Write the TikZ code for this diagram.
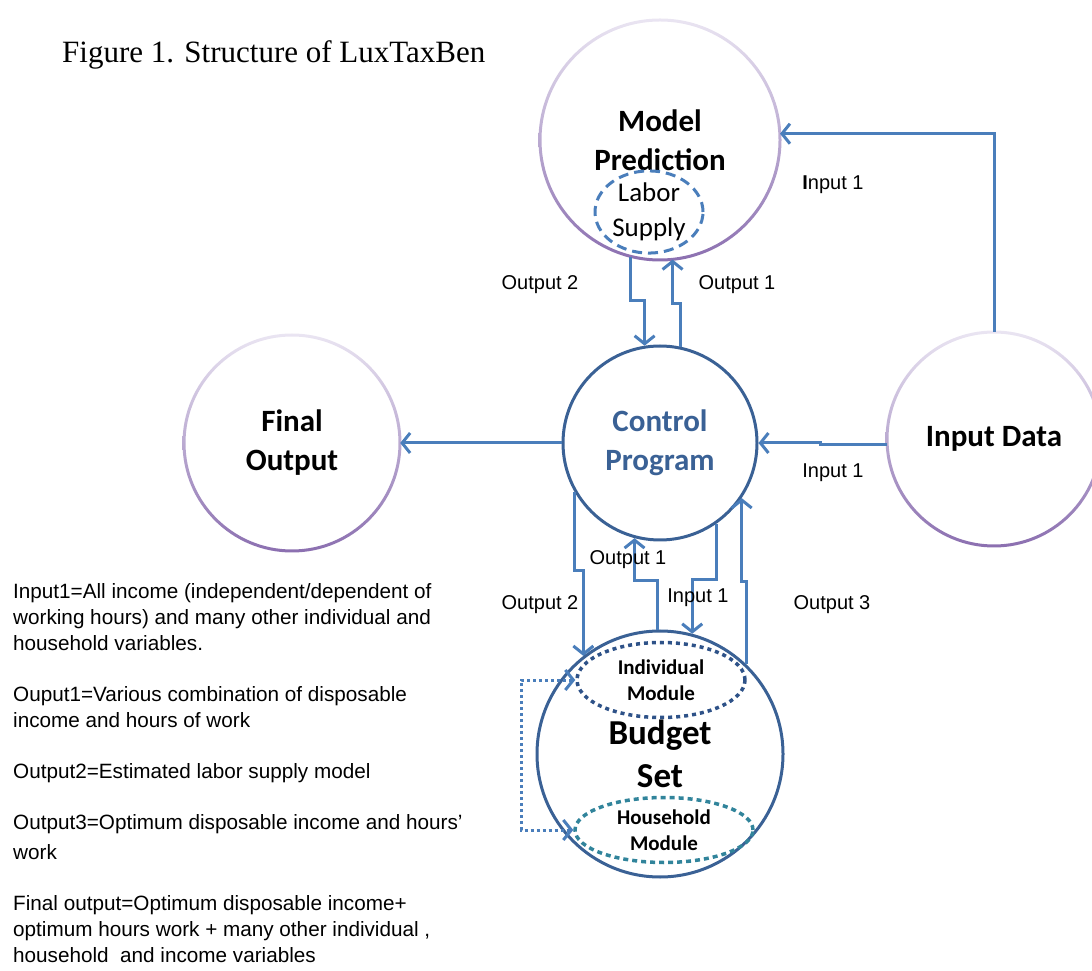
\documentclass[tikz,border=0pt]{standalone}
\usepackage{fontspec}
\setmainfont{Liberation Serif}
\newfontfamily\calibri{Carlito}
\newfontfamily\arial{Liberation Sans}
\usetikzlibrary{shapes.geometric,arrows.meta}
\definecolor{linkblue}{HTML}{4A7EBB}
\definecolor{hubblue}{HTML}{3A6195}
\definecolor{lavtop}{HTML}{EAE5F2}
\definecolor{lavbot}{HTML}{8B6FB0}
\definecolor{dotblue}{HTML}{2E5288}
\definecolor{dotteal}{HTML}{31849B}
\begin{document}
\begin{tikzpicture}[x=1pt,y=1pt]
\tikzstyle{ring} = [circle, inner sep=0pt, align=center, font=\calibri\bfseries\fontsize{31}{39}\selectfont]
\tikzstyle{hub} = [ring, draw=hubblue, line width=3pt]
\tikzstyle{module} = [ellipse, inner sep=0pt, align=center, line width=3.5pt, font=\calibri\bfseries\fontsize{21}{26}\selectfont]
\tikzstyle{arrow} = [line width=3pt, linkblue, -{Straight Barb[length=8pt,width=20pt]}]
\tikzstyle{tag} = [font=\arial\fontsize{20}{24}\selectfont]

\useasboundingbox (0,0) rectangle (1092,970);

\node (title) [anchor=base west, inner sep=0pt, font=\fontsize{31}{36}\selectfont] at (62,907) {Figure 1. Structure of LuxTaxBen};

% circles
\node (mp) [ring, minimum size=240pt] at (660,830) {Model\\Prediction};
\node (cp) [hub, minimum size=194pt, text=hubblue] at (660,527) {Control\\Program};
\node (fo) [ring, minimum size=216pt] at (292,527) {Final\\Output};
\node (id) [ring, minimum size=214pt] at (994,531) {Input Data};
\node (bs) [hub, minimum size=246pt, font=\calibri\bfseries\fontsize{35}{43}\selectfont] at (660,216) {Budget\\Set};

\shade[top color=lavtop, bottom color=lavbot, even odd rule] (mp) circle (121.5pt) circle (118.5pt);
\shade[top color=lavtop, bottom color=lavbot, even odd rule] (fo) circle (109.5pt) circle (106.5pt);
\shade[top color=lavtop, bottom color=lavbot, even odd rule] (id) circle (108.5pt) circle (105.5pt);

% inner modules
\node (ls) [ellipse, draw=linkblue, line width=3pt, dash pattern=on 10pt off 6pt, minimum width=108pt, minimum height=80pt, inner sep=0pt, align=center, font=\calibri\fontsize{27}{35}\selectfont] at (649,758) {Labor\\Supply};
\node (im) [module, draw=dotblue, dash pattern=on 4pt off 4pt, minimum width=168pt, minimum height=75pt] at (661,290) {Individual\\Module};
\node (hm) [module, draw=dotteal, dash pattern=on 5pt off 4pt, minimum width=178pt, minimum height=65pt] at (664,140) {Household\\Module};

% connectors
\draw [arrow] (id.north) |- (mp.3);
\draw [arrow] (id.183) -- ++(-66,0) |- (cp.east);
\draw [arrow] (cp.west) -- (fo.east);
\draw [arrow] (mp.-104) -- ++(0,-44) -| (cp.99);
\draw [arrow] (cp.78) -- ++(0,43) -| (mp.-84);
\draw [arrow] (cp.210) -- ++(0,-78) -| (bs.128);
\draw [arrow] (bs.91) -- ++(0,49) -| (cp.-105);
\draw [arrow] (cp.-55) -- ++(0,-56) -| (bs.75);
\draw [arrow] (bs.46) -- ++(0,83) -| (cp.-34);
\draw [line width=3pt, linkblue, dash pattern=on 3pt off 3pt, {Straight Barb[length=8pt,width=20pt]}-{Straight Barb[length=8pt,width=20pt]}] (im.west) -- ++(-54,0) |- (hm.west);

% connector labels
\node (l1) [tag] at (833,785) {{\bfseries I}nput 1};
\node (l2) [tag] at (833,497) {Input 1};
\node (l3) [tag] at (540,685) {Output 2};
\node (l4) [tag] at (737,685) {Output 1};
\node (l5) [tag] at (540,365) {Output 2};
\node (l6) [tag] at (628,410) {Output 1};
\node (l7) [tag] at (698,372) {Input 1};
\node (l8) [tag] at (832,365) {Output 3};

% legend
\node (key) [anchor=north west, inner sep=0pt, align=left, font=\arial\fontsize{20.7}{26}\selectfont] at (13,387) {Input1=All income (independent/dependent of\\working hours) and many other individual and\\household variables.\\[25pt]Ouput1=Various combination of disposable\\income and hours of work\\[25pt]Output2=Estimated labor supply model\\[25pt]Output3=Optimum disposable income and hours’\\[4pt]work\\[25pt]Final output=Optimum disposable income+\\optimum hours work + many other individual ,\\household\ \ and income variables};
\end{tikzpicture}
\end{document}
